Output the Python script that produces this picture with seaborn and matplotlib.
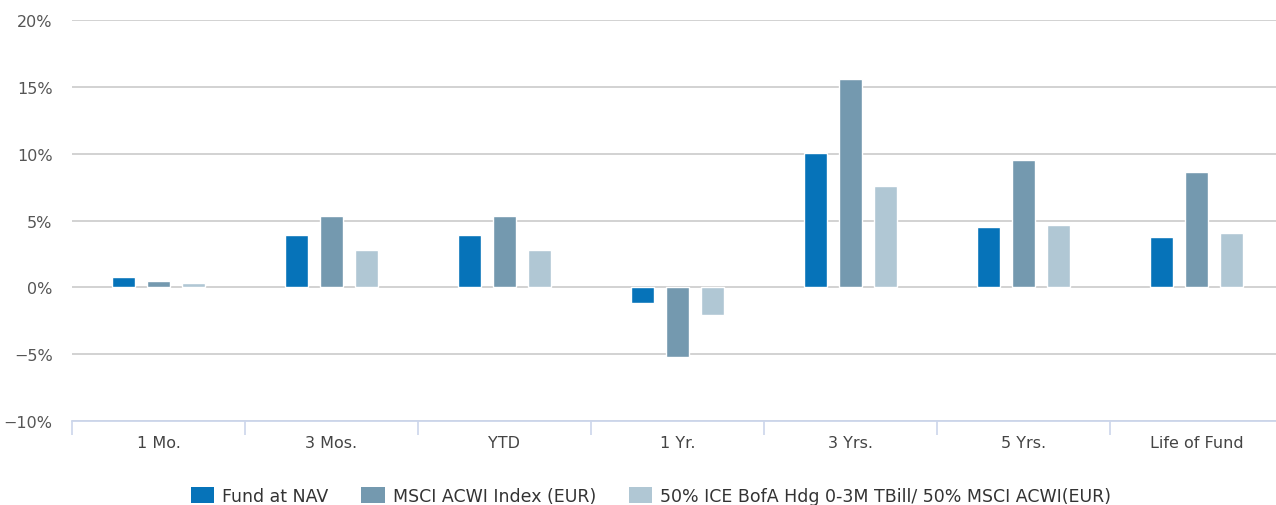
import pandas as pd
import matplotlib.pyplot as plt
import seaborn as sns
from matplotlib.patches import Patch
from matplotlib.ticker import FuncFormatter

# Chart values (percent)
periods = ['1 Mo.', '3 Mos.', 'YTD', '1 Yr.', '3 Yrs.', '5 Yrs.', 'Life of Fund']
series_names = ['Fund at NAV', 'MSCI ACWI Index (EUR)',
                '50% ICE BofA Hdg 0-3M TBill/ 50% MSCI ACWI(EUR)']
fund_nav = [0.78, 3.9, 3.9, -1.15, 10.05, 4.55, 3.8]
msci_acwi = [0.48, 5.3, 5.3, -5.2, 15.6, 9.5, 8.6]
blend = [0.3, 2.8, 2.8, -2.1, 7.55, 4.65, 4.1]
colors = ['#0673b9', '#7499af', '#b0c7d4']

df = pd.DataFrame({
    'period': periods * 3,
    'series': [series_names[0]] * 7 + [series_names[1]] * 7 + [series_names[2]] * 7,
    'value': fund_nav + msci_acwi + blend,
})

sns.set_style('white')
plt.rcParams['font.family'] = ['DejaVu Sans']

fig = plt.figure(figsize=(12.76, 5.06), dpi=100)
ax = fig.add_axes([72 / 1276, 1 - 422 / 506, 1211 / 1276, 401 / 506])

sns.barplot(data=df, x='period', y='value', hue='series', order=periods,
            hue_order=series_names, palette=colors, saturation=1, width=0.6, gap=0.33,
            edgecolor='white', linewidth=1, legend=False, ax=ax, zorder=3)

ax.set_xlim(-0.5, 6.5)
ax.set_ylim(-10, 20)
ax.set_yticks(range(-10, 21, 5))
ax.yaxis.set_major_formatter(FuncFormatter(lambda v, p: f'{v:.0f}%'.replace('-', '\u2212')))
ax.grid(axis='y', color='#cfcfcf', linewidth=1.3, zorder=0)
ax.set_xlabel('')
ax.set_ylabel('')

for s in ['top', 'right', 'left']:
    ax.spines[s].set_visible(False)
ax.spines['bottom'].set_color('#ccd6eb')
ax.spines['bottom'].set_linewidth(1.3)
ax.spines['bottom'].set_zorder(4)

# category boundary ticks
ax.set_xticks([i - 0.5 for i in range(7)], minor=True)
ax.tick_params(axis='x', which='minor', bottom=True, length=10, width=1.2,
               color='#ccd6eb', direction='out')
ax.tick_params(axis='x', which='major', bottom=False, length=0, pad=10,
               labelsize=11.5, labelcolor='#444444')
ax.tick_params(axis='y', left=False, length=0, pad=14, labelsize=11.5, labelcolor='#555555')

handles = [Patch(facecolor=c, edgecolor='none') for c in colors]
fig.legend(handles, series_names, loc='center', bbox_to_anchor=(651 / 1276, 1 - 497 / 506),
           ncol=3, frameon=False, fontsize=12.5, handlelength=1.35, handleheight=1.0,
           handletextpad=0.45, columnspacing=1.9, labelcolor='#333333')

plt.savefig('out.png', dpi=100)
